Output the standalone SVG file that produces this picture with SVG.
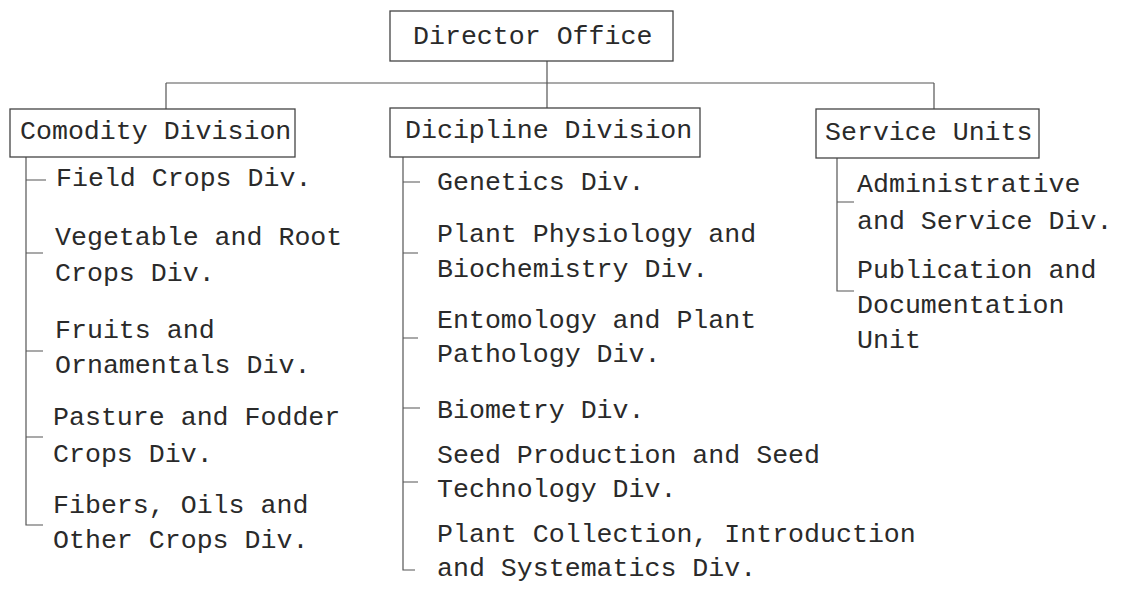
<svg xmlns="http://www.w3.org/2000/svg" width="1123" height="598" viewBox="0 0 1123 598">
<style>
text{font-family:"Liberation Mono","Courier New",monospace;font-size:26.6px;fill:#2a2a2a}
.box{fill:none;stroke:#444;stroke-width:1.3}
.ln{fill:none;stroke:#555;stroke-width:1.2}
</style>
<rect width="1123" height="598" fill="#fff"/>
<g id="connectors">
<path class="ln" d="M547 61V108M166 83H934M166 83V109M934 83V109"/>
<path class="ln" d="M26 157V525H43M26 180H46M26 253H43M26 351H43M26 437H43"/>
<path class="ln" d="M403 157V570H415M403 182H420M403 253H418M403 338H418M403 408H420M403 482H418"/>
<path class="ln" d="M837 158V291H854M837 202H854"/>
</g>
<g id="director"><rect class="box" x="390" y="11" width="283" height="50"/><text x="413" y="44">Director Office</text></g>
<g id="comodity"><rect class="box" x="10" y="109" width="285" height="48"/><text x="20" y="139">Comodity Division</text></g>
<g id="dicipline"><rect class="box" x="390" y="108" width="310" height="49"/><text x="405" y="138">Dicipline Division</text></g>
<g id="service"><rect class="box" x="816" y="109" width="223" height="49"/><text x="825" y="140">Service Units</text></g>
<g id="c1"><text x="56" y="186">Field Crops Div.</text></g>
<g id="c2"><text x="55" y="245">Vegetable and Root</text><text x="55" y="281">Crops Div.</text></g>
<g id="c3"><text x="55" y="338">Fruits and</text><text x="55" y="373">Ornamentals Div.</text></g>
<g id="c4"><text x="53" y="425">Pasture and Fodder</text><text x="53" y="462">Crops Div.</text></g>
<g id="c5"><text x="53" y="513">Fibers, Oils and</text><text x="53" y="548">Other Crops Div.</text></g>
<g id="d1"><text x="437" y="190">Genetics Div.</text></g>
<g id="d2"><text x="437" y="242">Plant Physiology and</text><text x="437" y="277">Biochemistry Div.</text></g>
<g id="d3"><text x="437" y="328">Entomology and Plant</text><text x="437" y="362">Pathology Div.</text></g>
<g id="d4"><text x="437" y="418">Biometry Div.</text></g>
<g id="d5"><text x="437" y="463">Seed Production and Seed</text><text x="437" y="497">Technology Div.</text></g>
<g id="d6"><text x="437" y="542">Plant Collection, Introduction</text><text x="437" y="576">and Systematics Div.</text></g>
<g id="s1"><text x="857" y="192">Administrative</text><text x="857" y="229">and Service Div.</text></g>
<g id="s2"><text x="857" y="278">Publication and</text><text x="857" y="313">Documentation</text><text x="857" y="348">Unit</text></g>
</svg>
